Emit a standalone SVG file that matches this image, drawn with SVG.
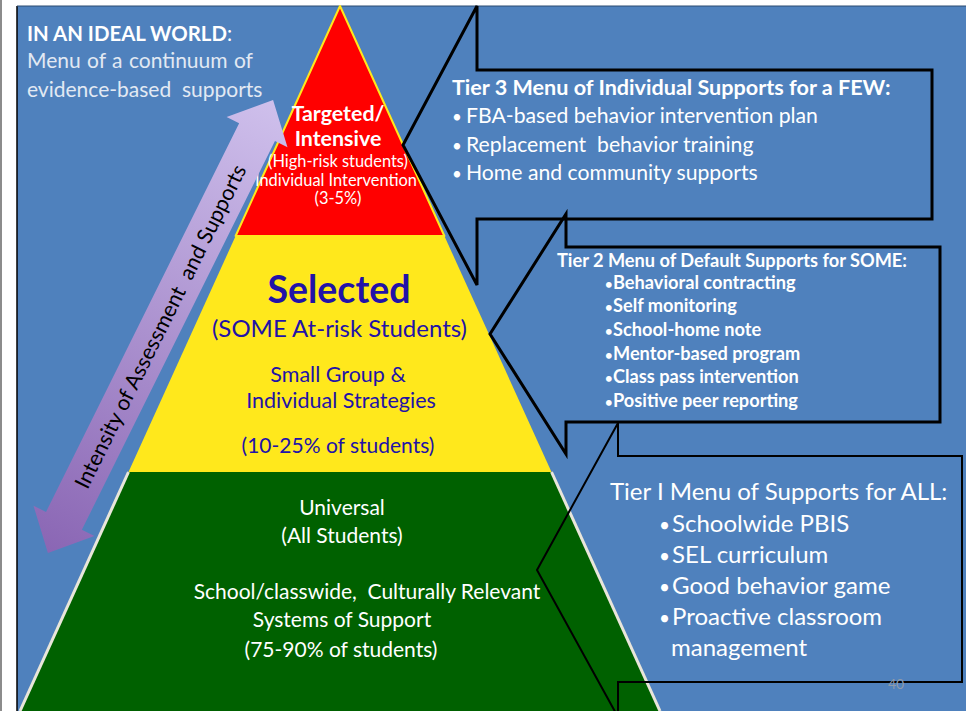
<svg xmlns="http://www.w3.org/2000/svg" width="966" height="711" viewBox="0 0 966 711">
<defs>
<style>
text{font-family:Lato,"Open Sans","Liberation Sans",sans-serif;white-space:pre}
.w{fill:#ffffff}
.lb{fill:#e2e9f3}
.db{fill:#2212a8}
.b{font-weight:bold}
.c{text-anchor:middle}
.co{fill:none;stroke:#000;stroke-width:3;stroke-linejoin:miter}
.co1{fill:none;stroke:#000;stroke-width:2;stroke-linejoin:miter}
</style>
<linearGradient id="purp" x1="-253" y1="0" x2="253" y2="0" gradientUnits="userSpaceOnUse">
<stop offset="0" stop-color="#8a66b4"/>
<stop offset="1" stop-color="#cfc0ec"/>
</linearGradient>
</defs>
<g id="background">
<rect width="966" height="711" fill="#ffffff"/>
<rect x="0" y="0" width="2" height="711" fill="#8c8c8c"/>
<rect x="17" y="6" width="949" height="705" fill="#4f81bd"/>
<line x1="17" y1="6" x2="17" y2="711" stroke="#000" stroke-width="1.5"/>
<line x1="17" y1="6" x2="966" y2="6" stroke="#2a4a70" stroke-width="1"/>
</g>
<g id="title">
<text x="27" y="41" font-size="20.4" class="w"><tspan class="b">IN AN IDEAL WORLD</tspan>:</text>
<text x="27" y="68" font-size="21" class="lb" word-spacing="1">Menu of a continuum of</text>
<text x="27" y="97" font-size="21" class="lb" xml:space="preserve">evidence-based  supports</text>
</g>
<g id="tier-green">
<polygon points="128.5,472 551.5,472 660,711 20,711" fill="#006100"/>
<polyline points="128.5,472 20,711" fill="none" stroke="#e9e6da" stroke-width="3"/>
<polyline points="551.5,472 660,711" fill="none" stroke="#e9e6da" stroke-width="3"/>
<text x="342" y="515" font-size="21" class="w c">Universal</text>
<text x="342" y="543" font-size="21" class="w c">(All Students)</text>
<text x="367" y="599" font-size="21" class="w c" xml:space="preserve">School/classwide,  Culturally Relevant</text>
<text x="342" y="627" font-size="21" class="w c">Systems of Support</text>
<text x="341" y="657" font-size="21" class="w c">(75-90% of students)</text>
</g>
<g id="tier-yellow">
<polygon points="235.6,236 444.4,236 551.5,472 128.5,472" fill="#ffe81c"/>
<text x="339" y="303" font-size="37.5" class="db b c">Selected</text>
<text x="339.5" y="337" font-size="24" class="db c">(SOME At-risk Students)</text>
<text x="338" y="382" font-size="21.5" class="db c">Small Group &amp;</text>
<text x="341" y="408" font-size="21.5" class="db c">Individual Strategies</text>
<text x="338" y="453" font-size="21" class="db c">(10-25% of students)</text>
</g>
<g id="tier-red">
<polygon points="340,6 444.4,236 235.6,236" fill="#ff0000" stroke="#ffe81c" stroke-width="2" stroke-linejoin="round"/>
<text x="338" y="121" font-size="21.4" class="w b c">Targeted/</text>
<text x="338" y="146" font-size="21.4" class="w b c">Intensive</text>
<text x="338" y="167" font-size="16.4" class="w c">(High-risk students)</text>
<text x="336" y="186" font-size="16.4" class="w c">Individual Intervention</text>
<text x="338" y="204" font-size="16.4" class="w c">(3-5%)</text>
</g>
<g id="connectors">
<g id="intensity-arrow" transform="translate(160.5,326.5) rotate(-63.58)">
<polygon points="253,0 217,-34 217,-20 -217,-20 -217,-34 -253,0 -217,34 -217,20 217,20 217,34" fill="url(#purp)"/>
<text x="0" y="7.5" font-size="21.5" fill="#000" class="c" xml:space="preserve">Intensity of Assessment  and Supports</text>
</g>
</g>
<g id="tier3-callout">
<path class="co" d="M477,6 L477,70 L932,70 L932,219 L477,219 L477,285 L403,145 Z"/>
<text x="452" y="95" font-size="21.6" class="w b">Tier 3 Menu of Individual Supports for a FEW:</text>
<text y="123" font-size="21.2" class="w"><tspan x="452" font-size="17">•</tspan><tspan x="466">FBA-based behavior intervention plan</tspan></text>
<text y="152" font-size="21.2" class="w" xml:space="preserve"><tspan x="452" font-size="17">•</tspan><tspan x="466">Replacement  behavior training</tspan></text>
<text y="180" font-size="21.2" class="w"><tspan x="452" font-size="17">•</tspan><tspan x="466">Home and community supports</tspan></text>
</g>
<g id="tier2-callout">
<path class="co" d="M566,214 L566,247 L940,247 L940,422 L566,422 L566,454 L490,334 Z"/>
<text x="557" y="267" font-size="18.2" class="w b">Tier 2 Menu of Default Supports for SOME:</text>
<g class="w b" font-size="18.2">
<text y="289"><tspan x="605" font-size="13">•</tspan><tspan x="613">Behavioral contracting</tspan></text>
<text y="312"><tspan x="605" font-size="13">•</tspan><tspan x="613">Self monitoring</tspan></text>
<text y="336"><tspan x="605" font-size="13">•</tspan><tspan x="613">School-home note</tspan></text>
<text y="360"><tspan x="605" font-size="13">•</tspan><tspan x="613">Mentor-based program</tspan></text>
<text y="383"><tspan x="605" font-size="13">•</tspan><tspan x="613">Class pass intervention</tspan></text>
<text y="407"><tspan x="605" font-size="13">•</tspan><tspan x="613">Positive peer reporting</tspan></text>
</g>
</g>
<g id="tier1-callout">
<path class="co1" d="M618,423 L618,456 L962,456 L962,682 L618,682 L618,717 L537,570 Z"/>
<text x="610" y="500" font-size="24" class="w">Tier I Menu of Supports for ALL:</text>
<text y="532" font-size="24" class="w"><tspan x="659" font-size="19">•</tspan><tspan x="672">Schoolwide PBIS</tspan></text>
<text y="563" font-size="24" class="w"><tspan x="659" font-size="19">•</tspan><tspan x="672">SEL curriculum</tspan></text>
<text y="594" font-size="24" class="w"><tspan x="659" font-size="19">•</tspan><tspan x="672">Good behavior game</tspan></text>
<text y="625" font-size="24" class="w"><tspan x="659" font-size="19">•</tspan><tspan x="672">Proactive classroom</tspan></text>
<text x="671" y="656" font-size="24" class="w">management</text>
</g>
<g id="page-number">
<text x="896" y="689" font-size="14" fill="#8e9bab" class="c">40</text>
</g>
</svg>
